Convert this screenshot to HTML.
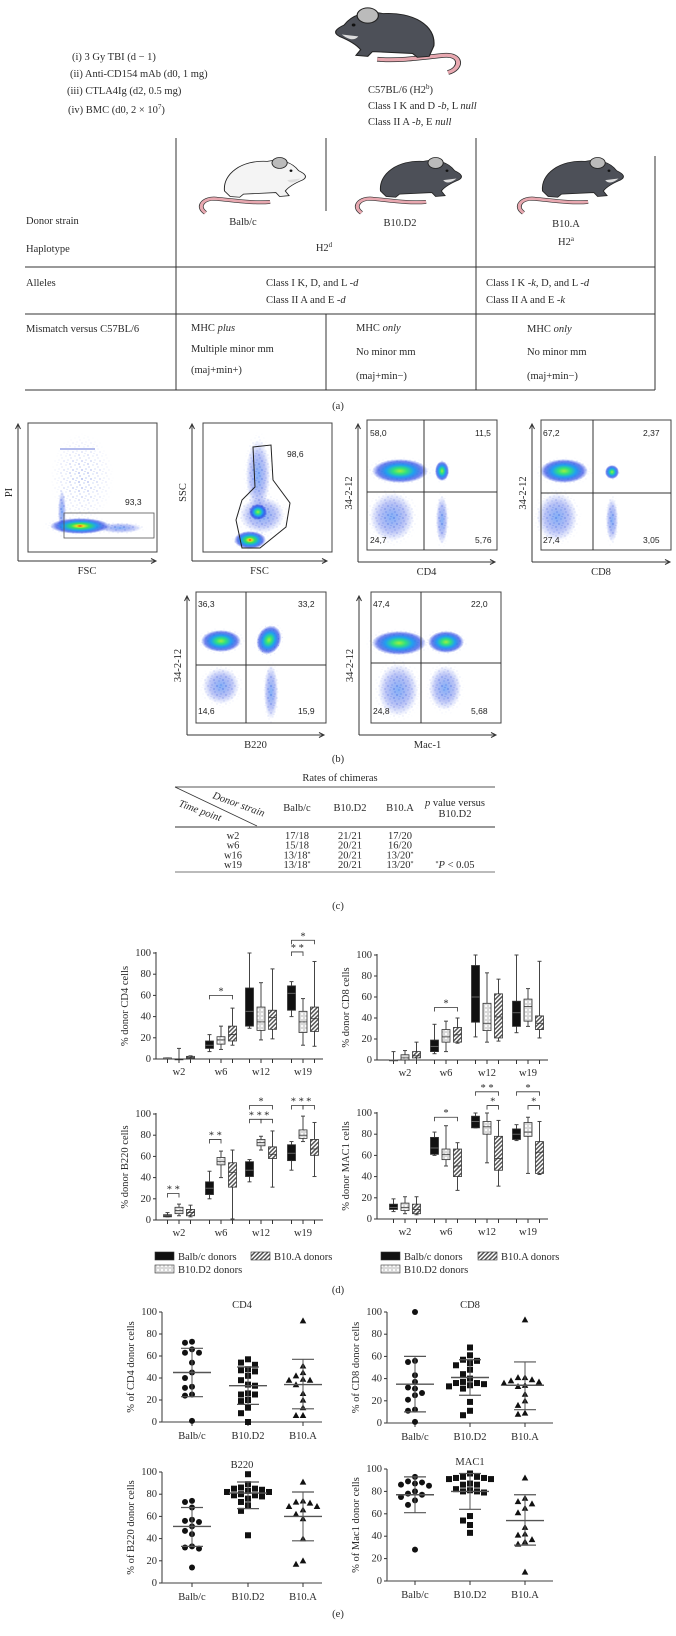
<!DOCTYPE html>
<html><head><meta charset="utf-8">
<style>
html,body{margin:0;padding:0;background:#fff;}
svg{display:block;font-family:"Liberation Serif",serif;}
.t{fill:#2a2a2a;font-size:10.5px;}
.s{font-family:"Liberation Sans",sans-serif;fill:#222;font-size:8.5px;}
</style></head>
<body>
<svg id="fig" width="676" height="1636" viewBox="0 0 676 1636" xmlns="http://www.w3.org/2000/svg">
<defs>
<radialGradient id="hot" cx="50%" cy="50%" r="50%">
<stop offset="0" stop-color="#e01010"/><stop offset="0.12" stop-color="#f0e020"/><stop offset="0.3" stop-color="#30e060"/><stop offset="0.55" stop-color="#20a0f0"/><stop offset="0.8" stop-color="#1030e0" stop-opacity="0.6"/><stop offset="1" stop-color="#1030e0" stop-opacity="0"/>
</radialGradient>
<radialGradient id="warm" cx="50%" cy="50%" r="50%">
<stop offset="0" stop-color="#a0f040"/><stop offset="0.25" stop-color="#30e080"/><stop offset="0.5" stop-color="#20a0f0"/><stop offset="0.8" stop-color="#1030e0" stop-opacity="0.6"/><stop offset="1" stop-color="#1030e0" stop-opacity="0"/>
</radialGradient>
<radialGradient id="cool" cx="50%" cy="50%" r="50%">
<stop offset="0" stop-color="#2070f0" stop-opacity="0.55"/><stop offset="0.6" stop-color="#1838e0" stop-opacity="0.3"/><stop offset="1" stop-color="#1838e0" stop-opacity="0"/>
</radialGradient>
<pattern id="speck" width="9" height="9" patternUnits="userSpaceOnUse">
<circle cx="1" cy="2" r="0.6" fill="#2040d0"/><circle cx="5" cy="1" r="0.5" fill="#3060e0"/><circle cx="7" cy="5" r="0.6" fill="#2040d0"/><circle cx="3" cy="6" r="0.5" fill="#4070e0"/><circle cx="8" cy="8" r="0.5" fill="#2040d0"/><circle cx="4" cy="3.5" r="0.4" fill="#2040d0"/>
</pattern>
<radialGradient id="fade" cx="50%" cy="50%" r="50%">
<stop offset="0" stop-color="#fff" stop-opacity="1"/><stop offset="1" stop-color="#fff" stop-opacity="0"/>
</radialGradient>
<mask id="fademask" maskContentUnits="objectBoundingBox"><rect width="1" height="1" fill="url(#fade)"/></mask>
<pattern id="dots" width="4" height="4" patternUnits="userSpaceOnUse">
<rect width="4" height="4" fill="#d8d8d8"/><circle cx="2" cy="2" r="1.1" fill="#fff"/>
</pattern>
<pattern id="hatch" width="3" height="3" patternUnits="userSpaceOnUse" patternTransform="rotate(45)">
<rect width="3" height="3" fill="#fff"/><rect width="1.5" height="3" fill="#555"/>
</pattern>
<g id="mouse">
<path d="M10 78 C0 70 8 58 22 60 C40 62 60 66 78 64" fill="none" stroke="#333" stroke-width="5"/>
<path d="M10 78 C0 70 8 58 22 60 C40 62 60 66 78 64" fill="none" stroke="#e8a8b0" stroke-width="3.4"/>
<path d="M30 50 C28 28 48 10 75 12 C90 8 102 14 108 24 C115 28 118 32 112 36 C104 40 98 44 94 50 L98 56 L88 57 L84 52 L50 54 L46 58 L36 57 Z" fill="currentColor" stroke="#222" stroke-width="1"/>
<ellipse cx="88" cy="14" rx="8" ry="7" fill="#bbb" stroke="#222" stroke-width="1"/>
<path d="M96 36 C100 42 106 38 110 34" fill="#ddd"/>
<circle cx="100" cy="24" r="1.5" fill="#111"/>
</g>
<g id="mouseL">
<path d="M100 70 C112 66 112 50 96 52 C80 54 60 58 40 56" fill="none" stroke="#333" stroke-width="5"/>
<path d="M100 70 C112 66 112 50 96 52 C80 54 60 58 40 56" fill="none" stroke="#e8a8b0" stroke-width="3.4"/>
<path d="M88 42 C90 20 70 6 45 8 C30 4 18 10 12 20 C5 24 2 28 8 32 C16 36 22 40 26 46 L22 52 L32 53 L36 48 L70 50 L74 54 L84 53 Z" fill="currentColor" stroke="#222" stroke-width="1"/>
<ellipse cx="32" cy="10" rx="9" ry="8" fill="#bbb" stroke="#222" stroke-width="1"/>
<path d="M24 32 C20 38 14 34 10 30" fill="#ddd"/>
<circle cx="20" cy="20" r="1.6" fill="#111"/>
</g>
</defs>
</svg>
<script>
const NS='http://www.w3.org/2000/svg';
const svg=document.getElementById('fig');
function mk(tag,attrs,parent){const e=document.createElementNS(NS,tag);for(const k in attrs)e.setAttribute(k,attrs[k]);(parent||svg).appendChild(e);return e;}
function tx(x,y,str,cls,anchor,parent,extra){const e=mk('text',Object.assign({x:x,y:y,class:cls||'t','text-anchor':anchor||'start'},extra||{}),parent);e.innerHTML=str;return e;}
function ln(x1,y1,x2,y2,parent,w,c){return mk('line',{x1:x1,y1:y1,x2:x2,y2:y2,stroke:c||'#333','stroke-width':w||1},parent);}

/* ============ PANEL A ============ */
const pa=mk('g',{});


const treat=['(i) 3 Gy TBI (d &#8722; 1)','(ii) Anti-CD154 mAb (d0, 1 mg)','(iii) CTLA4Ig (d2, 0.5 mg)','(iv) BMC (d0, 2 &#215; 10<tspan dy="-4" font-size="7">7</tspan><tspan dy="4">)</tspan>'];
const treatY=[60,77,94,113];
treat.forEach((s,i)=>{const e=tx([72,70,67,68][i],treatY[i],s,'t','start',pa);});
const m0=mk('use',{href:'#mouseL',x:0,y:0,transform:'translate(330,6) scale(1.18,0.95)',color:'#4d5058'},pa);


tx(368,93,'C57BL/6 (H2<tspan dy="-4" font-size="7">b</tspan><tspan dy="4">)</tspan>','t','start',pa);
tx(368,109,'Class I K and D -<tspan font-style="italic">b</tspan>, L <tspan font-style="italic">null</tspan>','t','start',pa);
tx(368,125,'Class II A -<tspan font-style="italic">b</tspan>, E <tspan font-style="italic">null</tspan>','t','start',pa);
[[176,138,390],[326,138,211],[476,138,390],[655,156,390],[326,314,390]].forEach(a=>ln(a[0],a[1],a[0],a[2],pa,1));
[267,314,390].forEach(y=>ln(25,y,655,y,pa,1));
const mice=[[196,'#f4f4f4','mouse-balbc'],[352,'#4d5058','mouse-b10d2'],[514,'#4d5058','mouse-b10a']];
mice.forEach(m=>{const u=mk('use',{href:'#mouse',transform:'translate('+m[0]+',152) scale(0.95,0.78)',color:m[1]},pa);});
tx(26,224,'Donor strain','t','start',pa);
tx(26,252,'Haplotype','t','start',pa);
tx(243,225,'Balb/c','t','middle',pa);
tx(400,226,'B10.D2','t','middle',pa);
tx(566,227,'B10.A','t','middle',pa);
tx(324,251,'H2<tspan dy="-4" font-size="7">d</tspan>','t','middle',pa);
tx(566,245,'H2<tspan dy="-4" font-size="7">a</tspan>','t','middle',pa);
tx(26,286,'Alleles','t','start',pa);
tx(266,286,'Class I K, D, and L -<tspan font-style="italic">d</tspan>','t','start',pa);
tx(266,303,'Class II A and E -<tspan font-style="italic">d</tspan>','t','start',pa);
tx(486,286,'Class I K -<tspan font-style="italic">k</tspan>, D, and L -<tspan font-style="italic">d</tspan>','t','start',pa);
tx(486,303,'Class II A and E -<tspan font-style="italic">k</tspan>','t','start',pa);
tx(26,332,'Mismatch versus C57BL/6','t','start',pa);
tx(191,331,'MHC <tspan font-style="italic">plus</tspan>','t','start',pa);
tx(191,352,'Multiple minor mm','t','start',pa);
tx(191,373,'(maj+min+)','t','start',pa);
tx(356,331,'MHC <tspan font-style="italic">only</tspan>','t','start',pa);
tx(356,355,'No minor mm','t','start',pa);
tx(356,379,'(maj+min&#8722;)','t','start',pa);
tx(527,332,'MHC <tspan font-style="italic">only</tspan>','t','start',pa);
tx(527,355,'No minor mm','t','start',pa);
tx(527,379,'(maj+min&#8722;)','t','start',pa);
tx(338,409,'(a)','t','middle',pa);

/* ============ PANEL B (flow plots) ============ */
function flow(name,fr,ax,labels,quad,blobs,nums){
  const g=mk('g',{});
  
  
  blobs.forEach(b=>{
    const tr='rotate('+(b[5]||0)+' '+b[0]+' '+b[1]+')';
    const sp=mk('ellipse',{cx:b[0],cy:b[1],rx:b[2]*1.25,ry:b[3]*1.25,fill:'url(#speck)',mask:'url(#fademask)',transform:tr},g);
    mk('ellipse',{cx:b[0],cy:b[1],rx:b[2],ry:b[3],fill:'url(#'+b[4]+')',transform:tr},g);
  });
  mk('rect',{x:fr[0],y:fr[1],width:fr[2]-fr[0],height:fr[3]-fr[1],fill:'none',stroke:'#444','stroke-width':1},g);
  if(quad){ln(quad[0],fr[1],quad[0],fr[3],g,1,'#333');ln(fr[0],quad[1],fr[2],quad[1],g,1,'#333');}
  ln(ax[0],ax[1],ax[0],ax[2],g,1,'#333');ln(ax[0],ax[2],ax[3],ax[2],g,1,'#333');
  mk('path',{d:'M'+(ax[0]-2.5)+' '+(ax[1]+5)+' L'+ax[0]+' '+ax[1]+' L'+(ax[0]+2.5)+' '+(ax[1]+5),fill:'none',stroke:'#333'},g);
  mk('path',{d:'M'+(ax[3]-5)+' '+(ax[2]-2.5)+' L'+ax[3]+' '+ax[2]+' L'+(ax[3]-5)+' '+(ax[2]+2.5),fill:'none',stroke:'#333'},g);
  tx((ax[0]+ax[3])/2,ax[2]+13,labels[0],'t','middle',g,{'font-size':'10'});
  const yc=(ax[1]+ax[2])/2;
  tx(ax[0]-6,yc,labels[1],'t','middle',g,{'font-size':'10',transform:'rotate(-90 '+(ax[0]-6)+' '+yc+')'});
  nums.forEach(n=>tx(n[0],n[1],n[2],'s',n[3]||'start',g));
  return g;
}
const f1=flow('flow-pi-fsc',[28,423,157,552],[18,424,561,156],['FSC','PI'],null,
 [[62,512,4,22,'cool'],[80,526,30,8,'hot'],[120,528,22,5,'cool']],[[125,505,'93,3']]);
mk('ellipse',{cx:82,cy:478,rx:32,ry:45,fill:'url(#speck)',mask:'url(#fademask)',opacity:0.9},f1);
mk('rect',{x:64,y:513,width:90,height:25,fill:'none',stroke:'#555','stroke-width':0.8},f1);
ln(60,449,95,449,f1,1,'#6a7ad8');
const f2=flow('flow-ssc-fsc',[203,423,332,552],[192,424,561,327],['FSC','SSC'],null,
 [[258,475,12,35,'cool'],[262,515,22,18,'cool'],[258,512,9,8,'warm'],[250,540,16,9,'hot']],[[287,457,'98,6']]);
mk('path',{d:'M253 447 L271 445 L273 480 L290 503 L286 527 L260 548 L242 548 L236 520 L242 500 L255 487 Z',fill:'none',stroke:'#222','stroke-width':1},f2);
flow('flow-cd4',[367,420,497,550],[358,424,562,495],['CD4','34-2-12'],[424,492],
 [[400,471,28,12,'warm'],[442,471,7,10,'warm'],[392,517,22,24,'cool'],[442,520,6,24,'cool']],
 [[370,436,'58,0'],[475,436,'11,5'],[370,543,'24,7'],[475,543,'5,76']]);
flow('flow-cd8',[541,420,671,550],[532,424,562,670],['CD8','34-2-12'],[593,493],
 [[564,471,24,12,'warm'],[612,472,7,7,'warm'],[557,517,20,24,'cool'],[612,520,6,22,'cool']],
 [[543,436,'67,2'],[643,436,'2,37'],[543,543,'27,4'],[643,543,'3,05']]);
flow('flow-b220',[196,592,326,723],[187,596,735,324],['B220','34-2-12'],[246,665],
 [[221,641,20,11,'warm'],[269,640,12,15,'warm',25],[221,686,18,18,'cool'],[271,692,7,27,'cool']],
 [[198,607,'36,3'],[298,607,'33,2'],[198,714,'14,6'],[298,714,'15,9']]);
flow('flow-mac1',[371,592,501,723],[359,596,735,496],['Mac-1','34-2-12'],[421,663],
 [[399,643,27,12,'warm'],[446,642,18,11,'warm'],[398,690,20,26,'cool'],[445,688,16,22,'cool']],
 [[373,607,'47,4'],[471,607,'22,0'],[373,714,'24,8'],[471,714,'5,68']]);
tx(338,762,'(b)','t','middle');

/* ============ PANEL C (table) ============ */
const tRows=['w2','w6','w16','w19'];
const tBalb=['17/18','15/18','13/18<tspan dy="-3" font-size="6">*</tspan>','13/18<tspan dy="-3" font-size="6">*</tspan>'];
const tD2=['21/21','20/21','20/21','20/21'];
const tA=['17/20','16/20','13/20<tspan dy="-3" font-size="6">*</tspan>','13/20<tspan dy="-3" font-size="6">*</tspan>'];
const pc=mk('g',{});


tx(340,781,'Rates of chimeras','t','middle',pc,{'font-size':'9.5'});
ln(175,787,495,787,pc,1,'#555');
ln(175,827,495,827,pc,1.6,'#777');
ln(175,872,495,872,pc,1,'#777');
ln(175,787,257,826,pc,0.8,'#333');
tx(212,798,'Donor strain','t','start',pc,{'font-size':'8.5',transform:'rotate(20 212 798)','font-style':'italic'});
tx(178,806,'Time point','t','start',pc,{'font-size':'8.5',transform:'rotate(20 178 806)','font-style':'italic'});
tx(297,811,'Balb/c','t','middle',pc,{'font-size':'9'});
tx(350,811,'B10.D2','t','middle',pc,{'font-size':'9'});
tx(400,811,'B10.A','t','middle',pc,{'font-size':'9'});
tx(455,806,'<tspan font-style="italic">p</tspan> value versus','t','middle',pc,{'font-size':'9'});
tx(455,817,'B10.D2','t','middle',pc,{'font-size':'9'});
tRows.forEach((r,i)=>{const y=839+i*9.7;
 tx(233,y,r,'t','middle',pc,{'font-size':'9'});tx(297,y,tBalb[i],'t','middle',pc,{'font-size':'9'});
 tx(350,y,tD2[i],'t','middle',pc,{'font-size':'9'});tx(400,y,tA[i],'t','middle',pc,{'font-size':'9'});});
tx(455,868,'<tspan dy="-3" font-size="6">*</tspan><tspan dy="3" font-style="italic">P</tspan> &lt; 0.05','t','middle',pc,{'font-size':'9'});
tx(338,909,'(c)','t','middle');

/* ============ PANEL D (box plots) ============ */
const boxCats=['w2','w6','w12','w19'];
const yTicks=[0,20,40,60,80,100];
const cd4Balb=[[0,0,0.5,1,1],[7,10,13,17,23],[29,31,45,67,100],[40,46,62,69,73]];
const cd4D2=[[0,0,0,0,10],[9,14,18,21,31],[18,27,35,49,72],[13,25,35,45,57]];
const cd4A=[[0,0.5,1.5,2.5,3],[13,17,23,31,48],[19,28,39,46,85],[12,26,38,49,92]];
const cd8Balb=[[0,0,0,0,8],[6,8,13,19,34],[22,36,60,90,100],[26,32,45,56,100]];
const cd8D2=[[0,0,2,5,9],[8,17,22,29,37],[17,28,35,54,83],[32,37,51,58,68]];
const cd8A=[[0,2,4,8,17],[16,17,24,31,40],[18,21,41,63,77],[21,29,35,42,94]];
const b220Balb=[[3,3,4,5,7],[20,24,30,36,46],[36,41,47,55,57],[47,56,63,71,74]];
const b220D2=[[4,6,9,12,15],[40,52,55,59,65],[66,70,73,76,79],[74,77,80,85,98]];
const b220A=[[3,4,7,10,14],[1,31,45,54,66],[31,58,62,69,84],[41,61,67,76,92]];
const macBalb=[[7,9,11,14,19],[60,61,67,77,82],[86,86,92,97,100],[74,75,80,85,89]];
const macD2=[[5,8,11,15,21],[50,56,61,66,88],[53,80,87,92,100],[43,78,82,91,96]];
const macA=[[4,5,9,14,21],[27,40,50,66,72],[31,46,57,78,93],[42,43,63,73,92]];
const cd4Sig=[[1,0,2,60,'*'],[3,0,1,101,'**'],[3,0,2,112,'*']];
const cd8Sig=[[1,0,2,50,'*']];
const b220Sig=[[0,0,1,25,'**'],[1,0,1,76,'**'],[2,0,1,95,'**'],[2,1,2,95,'*'],[2,0,2,108,'*'],[3,0,1,108,'**'],[3,1,2,108,'*']];
const macSig=[[1,0,2,96,'*'],[2,0,2,120,'**'],[2,1,2,107,'*'],[3,0,2,120,'*'],[3,1,2,107,'*']];
const fills=['#111','url(#dots)','url(#hatch)'];

function boxChart(name,ax,y0,y100,catX,ylabel,groups,sig){
  const g=mk('g',{});
  
  
  const ys=v=>y0-v/100*(y0-y100);
  const xs=(c,k)=>catX[c]+(k-1)*11.5;
  ln(ax,ys(100)-1,ax,y0,g,1,'#333');ln(ax,y0,catX[3]+20,y0,g,1,'#333');
  yTicks.forEach(t=>{ln(ax-3,ys(t),ax,ys(t),g,1,'#333');tx(ax-5,ys(t)+3,String(t),'t','end',g,{'font-size':'9'});});
  boxCats.forEach((c,i)=>{for(let k=0;k<3;k++)ln(xs(i,k),y0,xs(i,k),y0+4,g,1,'#333');
    const l=tx(catX[i],y0+16,c,'t','middle',g,{'font-size':'9.5'});
    
    });
  const yc=(y0+y100)/2;
  const yl=tx(ax-28,yc,ylabel,'t','middle',g,{'font-size':'9.5',transform:'rotate(-90 '+(ax-28)+' '+yc+')'});
  
  
  groups.forEach((arr,k)=>arr.forEach((d,i)=>{
    const x=xs(i,k);
    const bg=mk('g',{},g);
    
    
    ln(x,ys(d[4]),x,ys(d[3]),bg,1,'#444');ln(x,ys(d[1]),x,ys(d[0]),bg,1,'#444');
    ln(x-2,ys(d[4]),x+2,ys(d[4]),bg,1,'#444');ln(x-2,ys(d[0]),x+2,ys(d[0]),bg,1,'#444');
    mk('rect',{x:x-4,y:ys(d[3]),width:8,height:Math.max(0.8,ys(d[1])-ys(d[3])),fill:fills[k],stroke:'#333','stroke-width':0.8},bg);
    ln(x-4,ys(d[2]),x+4,ys(d[2]),bg,0.8,k==0?'#777':'#333');
  }));
  sig.forEach(s=>{const x1=xs(s[0],s[1]),x2=xs(s[0],s[2]),y=ys(s[3]);
    const sg=mk('g',{},g);
    
    
    mk('path',{d:'M'+x1+' '+(y+4)+' L'+x1+' '+y+' L'+x2+' '+y+' L'+x2+' '+(y+4),fill:'none',stroke:'#333','stroke-width':0.8},sg);
    tx((x1+x2)/2,y-1,s[4].split('').join(' '),'t','middle',sg,{'font-size':'10'});});
}
const catL=[179,221,261,303], catR=[405,446,487,528];
boxChart('box-chart-cd4',156,1059,953,catL,'% donor CD4 cells',[cd4Balb,cd4D2,cd4A],cd4Sig);
boxChart('box-chart-cd8',377,1060,955,catR,'% donor CD8 cells',[cd8Balb,cd8D2,cd8A],cd8Sig);
boxChart('box-chart-b220',156,1220,1114,catL,'% donor B220 cells',[b220Balb,b220D2,b220A],b220Sig);
boxChart('box-chart-mac1',377,1219,1113,catR,'% donor MAC1 cells',[macBalb,macD2,macA],macSig);
function legend(x1,x2,name){
  const g=mk('g',{});
  
  
  const items=[[x1,1252,0,'Balb/c donors'],[x2,1252,2,'B10.A donors'],[x1,1265,1,'B10.D2 donors']];
  items.forEach(it=>{const e=mk('g',{},g);
    
    
    mk('rect',{x:it[0],y:it[1],width:19,height:8,fill:fills[it[2]],stroke:'#333','stroke-width':0.6},e);
    tx(it[0]+23,it[1]+8,it[3],'t','start',e,{'font-size':'9.5'});});
}
legend(155,251,'legend-left');
legend(381,478,'legend-right');
tx(338,1293,'(d)','t','middle');

/* ============ PANEL E (scatter) ============ */
const scCats=['Balb/c','B10.D2','B10.A'];
const sTicks=[0,20,40,60,80,100];
const cd4Pts=[[73,72,66,63,63,54,45,40,32,31,25,24,1],[57,54,52,48,47,46,42,38,34,33,26,25,25,20,19,13,8,0],[92,51,45,42,39,38,38,34,26,20,13,6,6]];
const cd4Mean=[45,33,34], cd4Lo=[23,16,12], cd4Hi=[67,50,57];
const cd8Pts=[[100,56,55,43,37,32,31,27,25,21,12,11,1],[68,61,57,56,54,52,48,44,40,37,36,36,35,34,33,31,19,11,7],[93,41,41,39,38,37,36,34,33,26,20,16,9,8]];
const cd8Mean=[35,41,34], cd8Lo=[10,25,12], cd8Hi=[60,57,55];
const b220Pts=[[74,73,68,57,56,55,51,47,44,33,32,31,14],[98,89,86,85,85,84,83,82,82,80,79,79,78,76,73,70,65,43],[91,74,73,72,69,69,66,62,58,40,20,17]];
const b220Mean=[51,81,60], b220Lo=[33,67,38], b220Hi=[68,91,82];
const macPts=[[93,89,88,87,86,85,80,78,77,75,72,68,28],[96,93,93,92,92,91,91,87,86,86,82,81,80,80,79,58,54,50,43],[92,74,71,69,65,61,48,42,41,37,35,33,8]];
const macMean=[77,80,54], macLo=[61,64,32], macHi=[93,96,77];

function scatter(name,ax,xEnd,y0,y100,catX,title,ylabel,pts,mean,lo,hi){
  const g=mk('g',{});
  
  
  const ys=v=>y0-v/100*(y0-y100);
  ln(ax,ys(100),ax,y0,g,1,'#333');ln(ax,y0,xEnd,y0,g,1.3,'#666');
  sTicks.forEach(t=>{ln(ax-3,ys(t),ax,ys(t),g,1,'#333');tx(ax-5,ys(t)+3,String(t),'t','end',g,{'font-size':'9'});});
  scCats.forEach((c,i)=>{ln(catX[i],y0,catX[i],y0+4,g,1,'#333');tx(catX[i],y0+17,c,'t','middle',g,{'font-size':'9.5'});});
  const tt=tx((ax+xEnd)/2,y100-4,title,'t','middle',g,{'font-size':'10'});
  
  
  const yc=(y0+y100)/2;
  tx(ax-28,yc,ylabel,'t','middle',g,{'font-size':'9.5',transform:'rotate(-90 '+(ax-28)+' '+yc+')'});
  pts.forEach((arr,k)=>{
    const cx=catX[k];
    const sorted=arr.map((v,i)=>({v:v,i:i})).sort((a,b)=>b.v-a.v);
    const placed=[];
    sorted.forEach(p=>{const py=ys(p.v);let off=0;
      const cand=[0,-7,7,-14,14,-21,21];
      for(const o of cand){if(placed.every(q=>Math.hypot(q.x-(cx+o),q.y-py)>=6.2)){off=o;break;}}
      placed.push({x:cx+off,y:py});
      let m;
      if(k==0)m=mk('circle',{cx:cx+off,cy:py,r:3,fill:'#111'},g);
      else if(k==1)m=mk('rect',{x:cx+off-3,y:py-3,width:6,height:6,fill:'#111'},g);
      else m=mk('path',{d:'M'+(cx+off)+' '+(py-3.4)+' L'+(cx+off+3.3)+' '+(py+2.6)+' L'+(cx+off-3.3)+' '+(py+2.6)+' Z',fill:'#111'},g);
      
      
    });
    ln(cx-19,ys(mean[k]),cx+19,ys(mean[k]),g,1.4,'#555');
    ln(cx,ys(lo[k]),cx,ys(hi[k]),g,1,'#555');
    ln(cx-11,ys(lo[k]),cx+11,ys(lo[k]),g,1.2,'#555');
    ln(cx-11,ys(hi[k]),cx+11,ys(hi[k]),g,1.2,'#555');
  });
}
scatter('scatter-cd4',162,322,1422,1312,[192,248,303],'CD4','% of CD4 donor cells',cd4Pts,cd4Mean,cd4Lo,cd4Hi);
scatter('scatter-cd8',387,553,1423,1312,[415,470,525],'CD8','% of CD8 donor cells',cd8Pts,cd8Mean,cd8Lo,cd8Hi);
scatter('scatter-b220',162,322,1583,1472,[192,248,303],'B220','% of B220 donor cells',b220Pts,b220Mean,b220Lo,b220Hi);
scatter('scatter-mac1',387,553,1581,1469,[415,470,525],'MAC1','% of Mac1 donor cells',macPts,macMean,macLo,macHi);
tx(338,1617,'(e)','t','middle');
</script>
</body></html>
